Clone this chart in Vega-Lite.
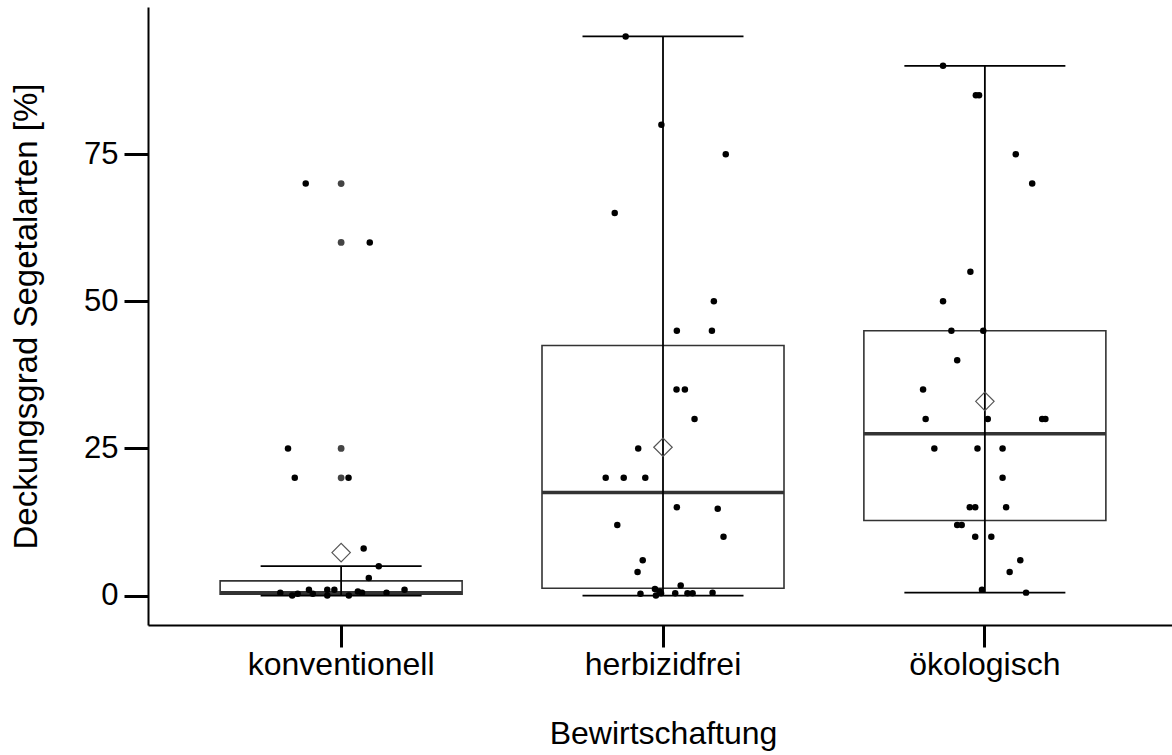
{
  "$schema": "https://vega.github.io/schema/vega-lite/v6.json",
  "width": 1030,
  "height": 618,
  "autosize": {"type": "none"},
  "padding": {"left": 148, "top": 7, "right": 0, "bottom": 130},
  "background": "white",
  "config": {
    "view": {"stroke": null},
    "font": "Liberation Sans",
    "axis": {"grid": false, "domainColor": "black", "tickColor": "black", "labelColor": "black", "titleColor": "black", "labelFont": "Liberation Sans", "titleFont": "Liberation Sans", "titleFontWeight": "normal", "labelLimit": 0}
  },
  "datasets": {
    "stats": [
      {"g": "konventionell", "lo": 0, "q1": 0.25, "med": 0.5, "q3": 2.5, "hi": 5, "mean": 7.3},
      {"g": "herbizidfrei", "lo": 0, "q1": 1.25, "med": 17.5, "q3": 42.5, "hi": 95, "mean": 25.2},
      {"g": "ökologisch", "lo": 0.5, "q1": 12.75, "med": 27.5, "q3": 45, "hi": 90, "mean": 33}
    ],
    "outliers": [
      {"g": "konventionell", "v": 70},
      {"g": "konventionell", "v": 60},
      {"g": "konventionell", "v": 25},
      {"g": "konventionell", "v": 20}
    ],
    "points": [
      {"g": "konventionell", "v": 70, "jit": -0.11},
      {"g": "konventionell", "v": 60, "jit": 0.089},
      {"g": "konventionell", "v": 25, "jit": -0.165},
      {"g": "konventionell", "v": 20, "jit": -0.144},
      {"g": "konventionell", "v": 20, "jit": 0.023},
      {"g": "konventionell", "v": 8, "jit": 0.07},
      {"g": "konventionell", "v": 5, "jit": 0.117},
      {"g": "konventionell", "v": 3, "jit": 0.086},
      {"g": "konventionell", "v": 0.5, "jit": -0.189},
      {"g": "konventionell", "v": 0, "jit": -0.152},
      {"g": "konventionell", "v": 0.3, "jit": -0.135},
      {"g": "konventionell", "v": 1, "jit": -0.1},
      {"g": "konventionell", "v": 0.3, "jit": -0.088},
      {"g": "konventionell", "v": 1, "jit": -0.043},
      {"g": "konventionell", "v": 0, "jit": -0.043},
      {"g": "konventionell", "v": 1, "jit": -0.021},
      {"g": "konventionell", "v": 0, "jit": 0.024},
      {"g": "konventionell", "v": 0.7, "jit": 0.052},
      {"g": "konventionell", "v": 0.5, "jit": 0.065},
      {"g": "konventionell", "v": 0.5, "jit": 0.141},
      {"g": "konventionell", "v": 1, "jit": 0.197},
      {"g": "herbizidfrei", "v": 95, "jit": -0.116},
      {"g": "herbizidfrei", "v": 80, "jit": -0.005},
      {"g": "herbizidfrei", "v": 75, "jit": 0.195},
      {"g": "herbizidfrei", "v": 65, "jit": -0.15},
      {"g": "herbizidfrei", "v": 50, "jit": 0.158},
      {"g": "herbizidfrei", "v": 45, "jit": 0.043},
      {"g": "herbizidfrei", "v": 45, "jit": 0.152},
      {"g": "herbizidfrei", "v": 35, "jit": 0.042},
      {"g": "herbizidfrei", "v": 35, "jit": 0.068},
      {"g": "herbizidfrei", "v": 30, "jit": 0.098},
      {"g": "herbizidfrei", "v": 25, "jit": -0.077},
      {"g": "herbizidfrei", "v": 20, "jit": -0.178},
      {"g": "herbizidfrei", "v": 20, "jit": -0.122},
      {"g": "herbizidfrei", "v": 20, "jit": -0.055},
      {"g": "herbizidfrei", "v": 15, "jit": 0.043},
      {"g": "herbizidfrei", "v": 14.75, "jit": 0.17},
      {"g": "herbizidfrei", "v": 12, "jit": -0.142},
      {"g": "herbizidfrei", "v": 10, "jit": 0.188},
      {"g": "herbizidfrei", "v": 6, "jit": -0.063},
      {"g": "herbizidfrei", "v": 4, "jit": -0.079},
      {"g": "herbizidfrei", "v": 1.7, "jit": 0.055},
      {"g": "herbizidfrei", "v": 1.1, "jit": -0.025},
      {"g": "herbizidfrei", "v": 0.7, "jit": -0.011},
      {"g": "herbizidfrei", "v": 0.3, "jit": -0.07},
      {"g": "herbizidfrei", "v": 0, "jit": -0.022},
      {"g": "herbizidfrei", "v": 0.4, "jit": -0.006},
      {"g": "herbizidfrei", "v": 0.4, "jit": 0.038},
      {"g": "herbizidfrei", "v": 0.4, "jit": 0.076},
      {"g": "herbizidfrei", "v": 0.4, "jit": 0.092},
      {"g": "herbizidfrei", "v": 0.5, "jit": 0.154},
      {"g": "ökologisch", "v": 90, "jit": -0.13},
      {"g": "ökologisch", "v": 85, "jit": -0.028},
      {"g": "ökologisch", "v": 85, "jit": -0.018},
      {"g": "ökologisch", "v": 75, "jit": 0.096},
      {"g": "ökologisch", "v": 70, "jit": 0.147},
      {"g": "ökologisch", "v": 55, "jit": -0.045},
      {"g": "ökologisch", "v": 50, "jit": -0.13},
      {"g": "ökologisch", "v": 45, "jit": -0.104},
      {"g": "ökologisch", "v": 45, "jit": -0.005},
      {"g": "ökologisch", "v": 40, "jit": -0.086},
      {"g": "ökologisch", "v": 35, "jit": -0.192},
      {"g": "ökologisch", "v": 30, "jit": -0.184},
      {"g": "ökologisch", "v": 30, "jit": 0.009},
      {"g": "ökologisch", "v": 30, "jit": 0.178},
      {"g": "ökologisch", "v": 30, "jit": 0.188},
      {"g": "ökologisch", "v": 25, "jit": -0.157},
      {"g": "ökologisch", "v": 25, "jit": -0.023},
      {"g": "ökologisch", "v": 25, "jit": 0.055},
      {"g": "ökologisch", "v": 20, "jit": 0.055},
      {"g": "ökologisch", "v": 15, "jit": -0.047},
      {"g": "ökologisch", "v": 15, "jit": -0.03},
      {"g": "ökologisch", "v": 15, "jit": 0.066},
      {"g": "ökologisch", "v": 12, "jit": -0.086},
      {"g": "ökologisch", "v": 12, "jit": -0.072},
      {"g": "ökologisch", "v": 10, "jit": -0.03},
      {"g": "ökologisch", "v": 10, "jit": 0.02},
      {"g": "ökologisch", "v": 6, "jit": 0.11},
      {"g": "ökologisch", "v": 4, "jit": 0.077},
      {"g": "ökologisch", "v": 1, "jit": -0.009},
      {"g": "ökologisch", "v": 0.5, "jit": 0.128}
    ]
  },
  "encoding": {
    "x": {
      "field": "g", "type": "nominal",
      "sort": ["konventionell", "herbizidfrei", "ökologisch"],
      "scale": {"paddingInner": 0, "paddingOuter": 0.1},
      "axis": {"title": "Bewirtschaftung", "labelAngle": 0, "labelFontSize": 32, "titleFontSize": 32, "tickSize": 22, "tickWidth": 3, "domainWidth": 2, "labelPadding": 2, "titlePadding": 38}
    }
  },
  "layer": [
    {
      "data": {"name": "stats"},
      "mark": {"type": "bar", "width": 242, "fill": "white", "stroke": "#333333", "strokeWidth": 1.6},
      "encoding": {
        "y": {"field": "q1", "type": "quantitative",
          "scale": {"domain": [-5, 100], "nice": false, "zero": false},
          "axis": {"title": "Deckungsgrad Segetalarten [%]", "values": [0, 25, 50, 75], "labelFontSize": 31, "titleFontSize": 33, "tickSize": 24, "tickWidth": 3, "domainWidth": 2, "labelPadding": 6, "titlePadding": 40}},
        "y2": {"field": "q3"}
      }
    },
    {
      "data": {"name": "stats"},
      "mark": {"type": "tick", "size": 242, "thickness": 3.5, "color": "#333333", "opacity": 1},
      "encoding": {"y": {"field": "med", "type": "quantitative"}}
    },
    {
      "data": {"name": "stats"},
      "mark": {"type": "rule", "color": "black", "strokeWidth": 1.8},
      "encoding": {"y": {"field": "lo", "type": "quantitative"}, "y2": {"field": "hi"}}
    },
    {
      "data": {"name": "stats"},
      "mark": {"type": "tick", "size": 161, "thickness": 1.8, "color": "black", "opacity": 1},
      "encoding": {"y": {"field": "lo", "type": "quantitative"}}
    },
    {
      "data": {"name": "stats"},
      "mark": {"type": "tick", "size": 161, "thickness": 1.8, "color": "black", "opacity": 1},
      "encoding": {"y": {"field": "hi", "type": "quantitative"}}
    },
    {
      "data": {"name": "outliers"},
      "mark": {"type": "point", "shape": "circle", "filled": true, "size": 46, "color": "#444444", "opacity": 1},
      "encoding": {"y": {"field": "v", "type": "quantitative"}}
    },
    {
      "data": {"name": "points"},
      "mark": {"type": "point", "shape": "circle", "filled": true, "size": 42, "color": "black", "opacity": 1},
      "encoding": {
        "y": {"field": "v", "type": "quantitative"},
        "xOffset": {"field": "jit", "type": "quantitative", "scale": {"domain": [-0.5, 0.5]}}
      }
    },
    {
      "data": {"name": "stats"},
      "mark": {"type": "point", "shape": "diamond", "filled": false, "size": 340, "stroke": "#555555", "strokeWidth": 1.2, "opacity": 1},
      "encoding": {"y": {"field": "mean", "type": "quantitative"}}
    }
  ]
}
